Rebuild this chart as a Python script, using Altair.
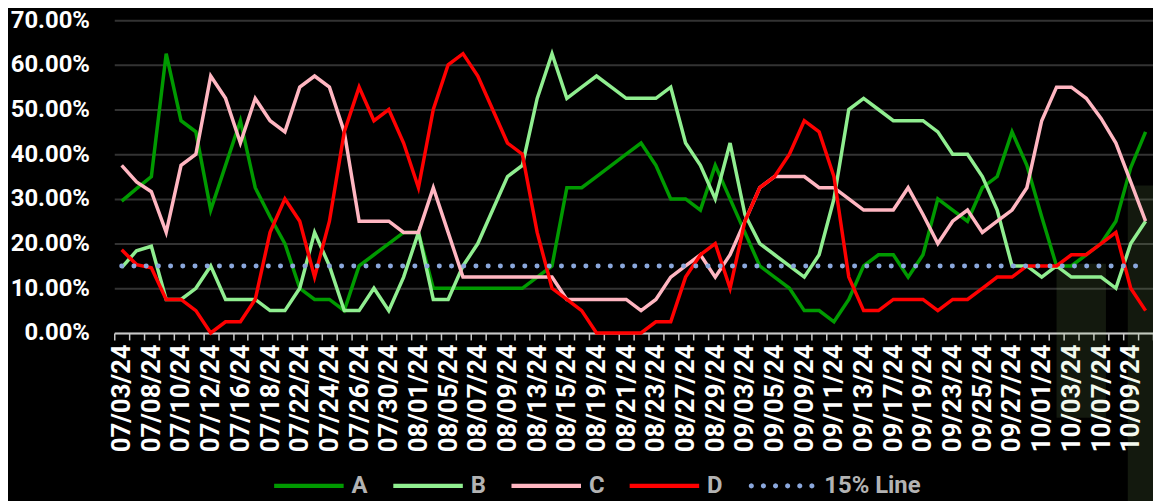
import math
import altair as alt
import pandas as pd

# ---------------- data ----------------
dates = ["07/03/24", "07/05/24", "07/08/24", "07/09/24", "07/10/24", "07/11/24", "07/12/24", "07/15/24", "07/16/24", "07/17/24",
         "07/18/24", "07/19/24", "07/22/24", "07/23/24", "07/24/24", "07/25/24", "07/26/24", "07/29/24", "07/30/24", "07/31/24",
         "08/01/24", "08/02/24", "08/05/24", "08/06/24", "08/07/24", "08/08/24", "08/09/24", "08/12/24", "08/13/24", "08/14/24",
         "08/15/24", "08/16/24", "08/19/24", "08/20/24", "08/21/24", "08/22/24", "08/23/24", "08/26/24", "08/27/24", "08/28/24",
         "08/29/24", "08/30/24", "09/03/24", "09/04/24", "09/05/24", "09/06/24", "09/09/24", "09/10/24", "09/11/24", "09/12/24",
         "09/13/24", "09/16/24", "09/17/24", "09/18/24", "09/19/24", "09/20/24", "09/23/24", "09/24/24", "09/25/24", "09/26/24",
         "09/27/24", "09/30/24", "10/01/24", "10/02/24", "10/03/24", "10/04/24", "10/07/24", "10/08/24", "10/09/24", "10/10/24"]

tick_labels = ["07/03/24", "07/08/24", "07/10/24", "07/12/24", "07/16/24", "07/18/24", "07/22/24", "07/24/24", "07/26/24",
               "07/30/24", "08/01/24", "08/05/24", "08/07/24", "08/09/24", "08/13/24", "08/15/24", "08/19/24", "08/21/24",
               "08/23/24", "08/27/24", "08/29/24", "09/03/24", "09/05/24", "09/09/24", "09/11/24", "09/13/24", "09/17/24",
               "09/19/24", "09/23/24", "09/25/24", "09/27/24", "10/01/24", "10/03/24", "10/07/24", "10/09/24"]

series_names = ["A", "B", "C", "D", "15% Line"]
series_colors = ["#009a00", "#90ee90", "#ffb6c1", "#ff0000", "#8aa7dc"]

a_vals = [29.5, 32.3, 35.0, 62.5, 47.5, 45.0, 27.5, 37.5, 47.5, 32.5,
          26.0, 20.0, 10.0, 7.5, 7.5, 5.0, 15.0, 17.5, 20.0, 22.5,
          22.5, 10.0, 10.0, 10.0, 10.0, 10.0, 10.0, 10.0, 12.5, 15.0,
          32.5, 32.5, 35.0, 37.5, 40.0, 42.5, 37.5, 30.0, 30.0, 27.5,
          37.5, 30.0, 22.5, 15.0, 12.5, 10.0, 5.0, 5.0, 2.5, 7.5,
          15.0, 17.5, 17.5, 12.5, 17.5, 30.0, 27.5, 25.0, 32.5, 35.0,
          45.0, 37.5, 26.0, 15.0, 15.0, 17.5, 20.0, 25.0, 37.0, 45.0]

b_vals = [14.6, 18.4, 19.4, 7.5, 7.5, 10.0, 15.0, 7.5, 7.5, 7.5,
          5.0, 5.0, 10.0, 22.5, 15.0, 5.0, 5.0, 10.0, 5.0, 12.5,
          22.5, 7.5, 7.5, 15.0, 20.0, 27.5, 35.0, 37.5, 52.5, 62.5,
          52.5, 55.0, 57.5, 55.0, 52.5, 52.5, 52.5, 55.0, 42.5, 37.5,
          30.0, 42.5, 26.5, 20.0, 17.5, 15.0, 12.5, 17.5, 30.0, 50.0,
          52.5, 50.0, 47.5, 47.5, 47.5, 45.0, 40.0, 40.0, 35.0, 27.5,
          15.0, 15.0, 12.5, 15.0, 12.5, 12.5, 12.5, 10.0, 20.0, 25.0]

c_vals = [37.5, 33.8, 31.6, 22.5, 37.5, 40.0, 57.5, 52.5, 42.5, 52.5,
          47.5, 45.0, 55.0, 57.5, 55.0, 45.0, 25.0, 25.0, 25.0, 22.5,
          22.5, 32.5, 22.5, 12.5, 12.5, 12.5, 12.5, 12.5, 12.5, 12.5,
          7.5, 7.5, 7.5, 7.5, 7.5, 5.0, 7.5, 12.5, 15.0, 17.5,
          12.5, 17.5, 25.0, 32.5, 35.0, 35.0, 35.0, 32.5, 32.5, 30.0,
          27.5, 27.5, 27.5, 32.5, 26.5, 20.0, 25.0, 27.5, 22.5, 25.0,
          27.5, 32.5, 47.5, 55.0, 55.0, 52.5, 48.0, 42.5, 33.8, 25.0]

d_vals = [18.6, 15.3, 14.6, 7.5, 7.5, 5.0, 0.0, 2.5, 2.5, 7.5,
          22.5, 30.0, 25.0, 12.5, 25.0, 45.0, 55.0, 47.5, 50.0, 42.5,
          32.5, 50.0, 60.0, 62.5, 57.5, 50.0, 42.5, 40.0, 22.5, 10.0,
          7.5, 5.0, 0.0, 0.0, 0.0, 0.0, 2.5, 2.5, 12.5, 17.5,
          20.0, 10.0, 25.0, 32.5, 35.0, 40.0, 47.5, 45.0, 35.0, 12.5,
          5.0, 5.0, 7.5, 7.5, 7.5, 5.0, 7.5, 7.5, 10.0, 12.5,
          12.5, 15.0, 15.0, 15.0, 17.5, 17.5, 20.0, 22.5, 10.0, 5.0]

threshold = 15.0
y_ticks = [0, 10, 20, 30, 40, 50, 60, 70]

# faint highlighted regions (in category-index units and percent)
shade_start = [63.0, 67.8]
shade_end = [66.33, 70.5]
shade_top = [15.5, 33.0]
shade_bottom = [-19.0, -40.0]

# ---------------- tables ----------------
series_vals = [a_vals, b_vals, c_vals, d_vals]
line_dfs = [pd.DataFrame({"series": [name] * len(dates), "date": dates, "pct": [v / 100.0 for v in vals]})
            for name, vals in zip(series_names[:4], series_vals)]
thresh_df = pd.DataFrame({"series": ["15% Line"] * len(dates), "date": dates,
                          "pct": [threshold / 100.0] * len(dates)})
shade_df = pd.DataFrame({"x0": shade_start, "x1": shade_end,
                         "y0": [v / 100.0 for v in shade_top],
                         "y1": [v / 100.0 for v in shade_bottom]})
legend_df = pd.DataFrame({"series": series_names})

# ---------------- legend symbol shapes ----------------
bar_path = "M-1,-0.06L1,-0.06L1,0.06L-1,0.06Z"
dot_r = 0.074
dot_centers = [-0.871, -0.523, -0.174, 0.174, 0.523, 0.871]
parts = []
for cx in dot_centers:
    pts = []
    for i in range(12):
        ang = 2 * math.pi * i / 12
        pts.append(f"{cx + dot_r * math.cos(ang):.4f},{dot_r * math.sin(ang):.4f}")
    parts.append("M" + "L".join(pts) + "Z")
dots_path = "".join(parts)

# ---------------- encodings ----------------
label_list = ",".join("'" + t + "'" for t in tick_labels)
x_axis = alt.Axis(
    labelAngle=-90, labelFont="Roboto", labelFontSize=26, labelFontWeight="bold",
    labelColor="#ffffff", labelPadding=4, labelOverlap=False,
    labelExpr=f"indexof([{label_list}], datum.value) >= 0 ? datum.value : ''",
    tickBand="extent", tickSize=7, tickColor="#c8c8c8", tickWidth=1.5,
    domainColor="#c8c8c8", domainWidth=2, grid=False,
)
x_enc = alt.X("date:N", sort=dates, bandPosition=0.5,
              scale=alt.Scale(type="band", domain=dates, paddingInner=0, paddingOuter=0),
              axis=x_axis, title=None)

y_axis = alt.Axis(values=[t / 100.0 for t in y_ticks], format=".2%", labelFont="Roboto",
                  labelFontSize=24, labelFontWeight="bold", labelColor="#ffffff",
                  labelPadding=25, ticks=False, domain=False, grid=True,
                  gridColor="#333333", gridWidth=2)
y_scale = alt.Scale(domain=[0, 0.7], nice=False, zero=False)


def y_enc(field):
    return alt.Y(field, type="quantitative", scale=y_scale, axis=y_axis, title=None)


legend_def = alt.Legend(title=None, orient="none", legendX=160, legendY=433, direction="horizontal",
                        symbolSize=4900, symbolOpacity=1, labelFont="Roboto", labelFontSize=24,
                        labelFontWeight="bold", labelColor="#b3b3b3", labelOffset=7,
                        columnPadding=22, padding=0)

# ---------------- layers ----------------
line_layers = []
for df, col in zip(line_dfs, series_colors[:4]):
    line_layers.append(
        alt.Chart(df).mark_line(strokeWidth=3.5, strokeJoin="miter", color=col)
        .encode(x=x_enc, y=y_enc("pct"))
    )

thresh_layer = alt.Chart(thresh_df).mark_line(
    strokeWidth=5, strokeCap="round", strokeDash=[0.1, 12.2], color=series_colors[4]
).encode(x=x_enc, y=y_enc("pct"))

legend_layer = alt.Chart(legend_df).mark_point(filled=True, opacity=0).encode(
    color=alt.Color("series:N", scale=alt.Scale(domain=series_names, range=series_colors), legend=legend_def),
    shape=alt.Shape("series:N", scale=alt.Scale(domain=series_names,
                                                 range=[bar_path, bar_path, bar_path, bar_path, dots_path]),
                    legend=legend_def),
)

shade_layer = alt.Chart(shade_df).mark_rect(clip=False, fill="#a0d070", opacity=0.12).encode(
    x=alt.X("x0:Q", scale=alt.Scale(domain=[-0.5, 69.5], nice=False, zero=False), axis=None),
    x2="x1",
    y=y_enc("y0"),
    y2="y1",
)

inner = alt.layer(*line_layers, thresh_layer)

chart = alt.layer(shade_layer, inner, legend_layer).resolve_scale(x="independent").properties(
    width=1046, height=315,
    autosize=alt.AutoSizeParams(type="none"),
    padding={"left": 107, "top": 10.5, "right": 0, "bottom": 167.5},
).configure(background="#000000").configure_view(stroke=None)

chart.save("out.html", embed_options={"renderer": "svg", "actions": False})
